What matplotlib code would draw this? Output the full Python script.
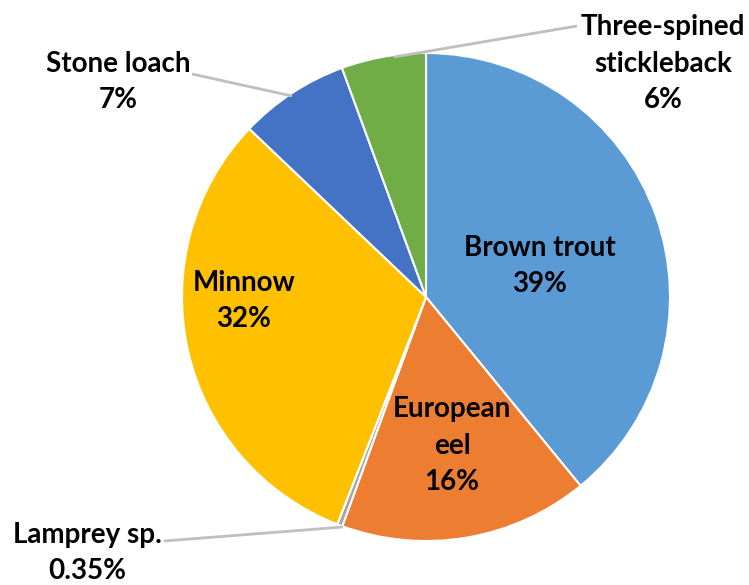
import matplotlib
matplotlib.use('Agg')
import matplotlib.pyplot as plt

species = ['Brown trout', 'European eel', 'Lamprey sp.', 'Minnow', 'Stone loach', 'Three-spined stickleback']
shares = [39.1, 16.5, 0.35, 31.2, 7.3, 5.6]
pct_labels = ['39%', '16%', '0.35%', '32%', '7%', '6%']
colors = ['#5B9BD5', '#ED7D31', '#A5A5A5', '#FFC000', '#4472C4', '#70AD47']

plt.rcParams['font.family'] = ['Lato', 'DejaVu Sans']

# pie centre and radius in pixels of the 749x585 figure
cx, cy, R = 426, 297, 244

def px(x, y):
    return (x - cx) / R, (cy - y) / R

fig = plt.figure(figsize=(7.49, 5.85), dpi=100)
ax = fig.add_axes([0, 0, 1, 1])
ax.pie(shares, colors=colors, startangle=90, counterclock=False, radius=1,
       wedgeprops={'edgecolor': 'white', 'linewidth': 1.5})
ax.set_xlim(-cx / R, (749 - cx) / R)
ax.set_ylim(-(585 - cy) / R, cy / R)
ax.axis('off')

txt = dict(ha='center', va='center', fontsize=20, fontweight='bold', color='black', linespacing=1.5)

# labels inside slices
ax.text(*px(540, 266), species[0] + '\n' + pct_labels[0], **txt)
ax.text(*px(452, 446), 'European\neel\n' + pct_labels[1], **txt)
ax.text(*px(244, 301), species[3] + '\n' + pct_labels[3], **txt)

# outside labels with leader lines
ax.text(*px(87, 553), species[2] + '\n' + pct_labels[2], **txt)
ax.text(*px(118, 82), species[4] + '\n' + pct_labels[4], **txt)
ax.text(*px(663, 64), 'Three-spined\nstickleback\n' + pct_labels[5], **txt)

leader = dict(color='#BFBFBF', linewidth=2, solid_capstyle='butt')
for (x0, y0), (x1, y1) in [((343, 527), (164, 541)),
                           ((292, 96), (192, 74)),
                           ((394, 57), (577, 26))]:
    a, b = px(x0, y0)
    c, d = px(x1, y1)
    ax.plot([a, c], [b, d], **leader)

fig.savefig('out.png', dpi=100)
